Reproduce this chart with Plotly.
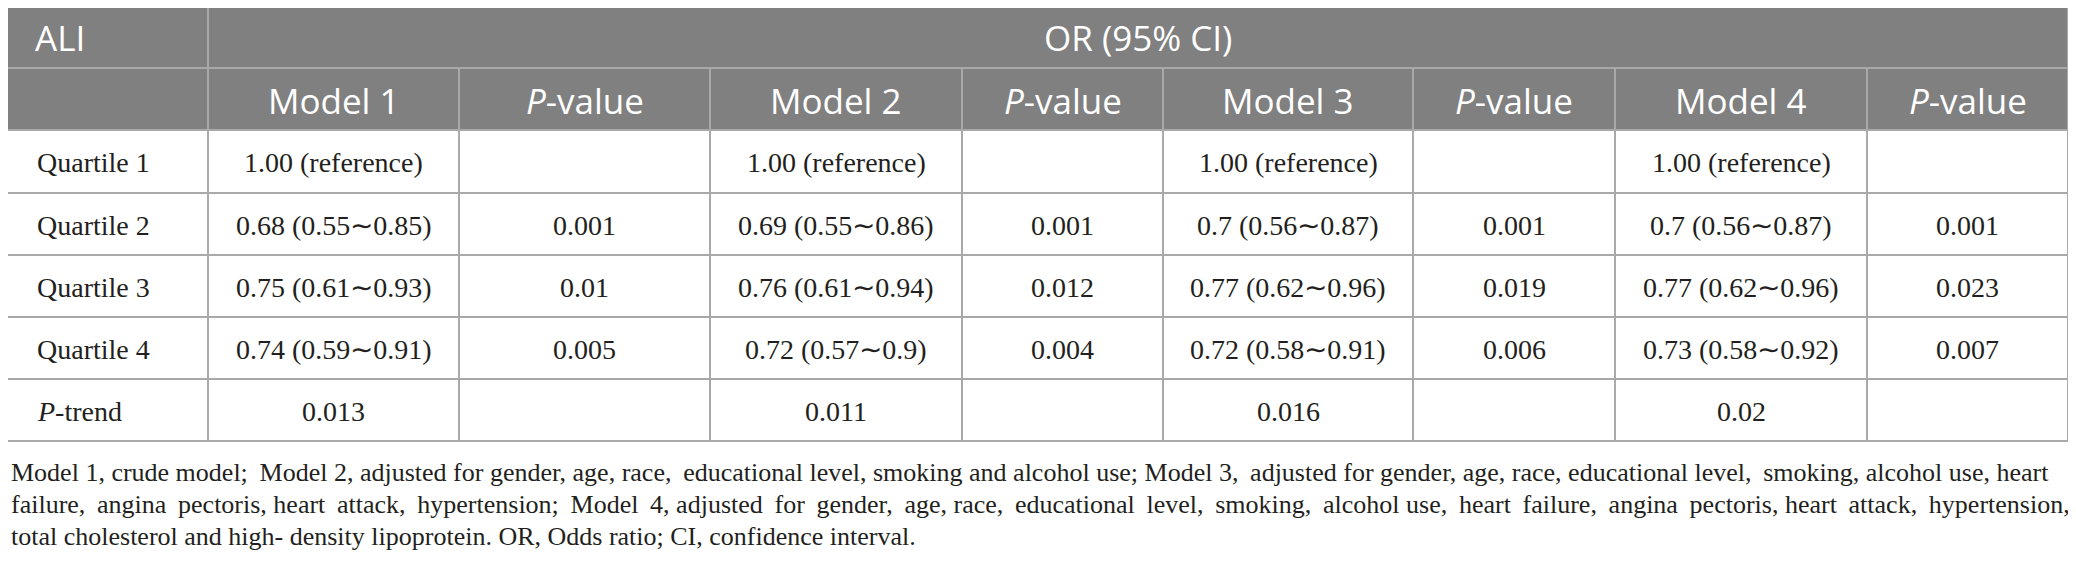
import plotly.graph_objects as go

# ---------------- data ----------------
row_labels = ["Quartile 1", "Quartile 2", "Quartile 3", "Quartile 4", "<i>P</i>-trend"]
col_headers = ["Model 1", "<i>P</i>-value", "Model 2", "<i>P</i>-value",
               "Model 3", "<i>P</i>-value", "Model 4", "<i>P</i>-value"]
model1_or = ["1.00 (reference)", "0.68 (0.55∼0.85)", "0.75 (0.61∼0.93)", "0.74 (0.59∼0.91)", "0.013"]
model1_p = ["", "0.001", "0.01", "0.005", ""]
model2_or = ["1.00 (reference)", "0.69 (0.55∼0.86)", "0.76 (0.61∼0.94)", "0.72 (0.57∼0.9)", "0.011"]
model2_p = ["", "0.001", "0.012", "0.004", ""]
model3_or = ["1.00 (reference)", "0.7 (0.56∼0.87)", "0.77 (0.62∼0.96)", "0.72 (0.58∼0.91)", "0.016"]
model3_p = ["", "0.001", "0.019", "0.006", ""]
model4_or = ["1.00 (reference)", "0.7 (0.56∼0.87)", "0.77 (0.62∼0.96)", "0.73 (0.58∼0.92)", "0.02"]
model4_p = ["", "0.001", "0.023", "0.007", ""]
corner_label = "ALI"
group_label = "OR (95% CI)"
footnote_lines = [
    "Model 1, crude model; Model 2, adjusted for gender, age, race, educational level, smoking and alcohol use; Model 3, adjusted for gender, age, race, educational level, smoking, alcohol use, heart",
    "failure, angina pectoris, heart attack, hypertension; Model 4, adjusted for gender, age, race, educational level, smoking, alcohol use, heart failure, angina pectoris, heart attack, hypertension,",
    "total cholesterol and high- density lipoprotein. OR, Odds ratio; CI, confidence interval.",
]

# ---------------- layout / style ----------------
W, H = 2076, 570
PAGE_OFF = 8  # default body margin of the written page
col_edges = [7, 208, 459, 710, 962, 1163, 1413, 1615, 1867, 2068]
row_edges = [6, 68, 130, 193, 255, 317, 379, 441]
foot_base = [485, 517, 549]
foot_extra_thin = [4, 19, 0]  # thin spaces spread over the line to approximate justification
HEAD_BG = "#808080"
GRID = "#a9a9a9"
HEAD_FONT = dict(family="Open Sans", size=35, color="white")
BODY_FONT = dict(family="Liberation Serif", size=28, color="#231f20")
FOOT_FONT = dict(family="Liberation Serif", size=26, color="#231f20")

columns = [model1_or, model1_p, model2_or, model2_p, model3_or, model3_p, model4_or, model4_p]

fig = go.Figure()
shapes = []
ann = []

# header background
shapes.append(dict(type="rect", x0=col_edges[0], x1=col_edges[-1], y0=row_edges[0], y1=row_edges[2],
                   fillcolor=HEAD_BG, line=dict(width=0), layer="below"))

def hline(y, x0, x1):
    shapes.append(dict(type="line", x0=x0, x1=x1, y0=y, y1=y, line=dict(color=GRID, width=2)))

def vline(x, y0, y1):
    shapes.append(dict(type="line", x0=x, x1=x, y0=y0, y1=y1, line=dict(color=GRID, width=2)))

for y in row_edges:
    hline(y, col_edges[0], col_edges[-1])
vline(col_edges[0], row_edges[0], row_edges[-1])
vline(col_edges[-1], row_edges[0], row_edges[-1])
vline(col_edges[1], row_edges[0], row_edges[-1])
for x in col_edges[2:-1]:
    vline(x, row_edges[1], row_edges[-1])

def mid(a, b):
    return (a + b) / 2

# header texts
ann.append(dict(x=col_edges[0] + 26, y=mid(row_edges[0], row_edges[1]), text=corner_label,
                xanchor="left", yanchor="middle", font=HEAD_FONT))
ann.append(dict(x=mid(col_edges[1], col_edges[-1]), y=mid(row_edges[0], row_edges[1]), text=group_label,
                xanchor="center", yanchor="middle", font=HEAD_FONT))
for i, h in enumerate(col_headers):
    ann.append(dict(x=mid(col_edges[i + 1], col_edges[i + 2]), y=mid(row_edges[1], row_edges[2]) + 1, text=h,
                    xanchor="center", yanchor="middle", font=HEAD_FONT))

# body texts
for r, lab in enumerate(row_labels):
    yc = mid(row_edges[r + 2], row_edges[r + 3]) + 1
    ann.append(dict(x=col_edges[0] + 28, y=yc, text=lab, xanchor="left", yanchor="middle", font=BODY_FONT))
    for c, col in enumerate(columns):
        if col[r]:
            ann.append(dict(x=mid(col_edges[c + 1], col_edges[c + 2]), y=yc, text=col[r],
                            xanchor="center", yanchor="middle", font=BODY_FONT))

# footnote
for line, yb, n_thin in zip(footnote_lines, foot_base, foot_extra_thin):
    parts = line.split(" ")
    n_gaps = len(parts) - 1
    pick = set(int((j + 0.5) * n_gaps / n_thin) for j in range(n_thin)) if n_thin else set()
    out = parts[0]
    for k, p in enumerate(parts[1:]):
        out += (" \u2009" if k in pick else " ") + p
    ann.append(dict(x=col_edges[0] + 2, y=yb - 13, text=out, xanchor="left", yanchor="middle", font=FOOT_FONT))

for a in ann:
    a.update(xref="x", yref="y", showarrow=False)

fig.update_layout(
    width=W, height=H, margin=dict(l=0, r=0, t=0, b=0),
    paper_bgcolor="white", plot_bgcolor="white",
    xaxis=dict(range=[PAGE_OFF, W + PAGE_OFF], visible=False, fixedrange=True),
    yaxis=dict(range=[H + PAGE_OFF, PAGE_OFF], visible=False, fixedrange=True),
    shapes=shapes, annotations=ann, showlegend=False,
)
fig.write_html("out.html", config={"displayModeBar": False})
